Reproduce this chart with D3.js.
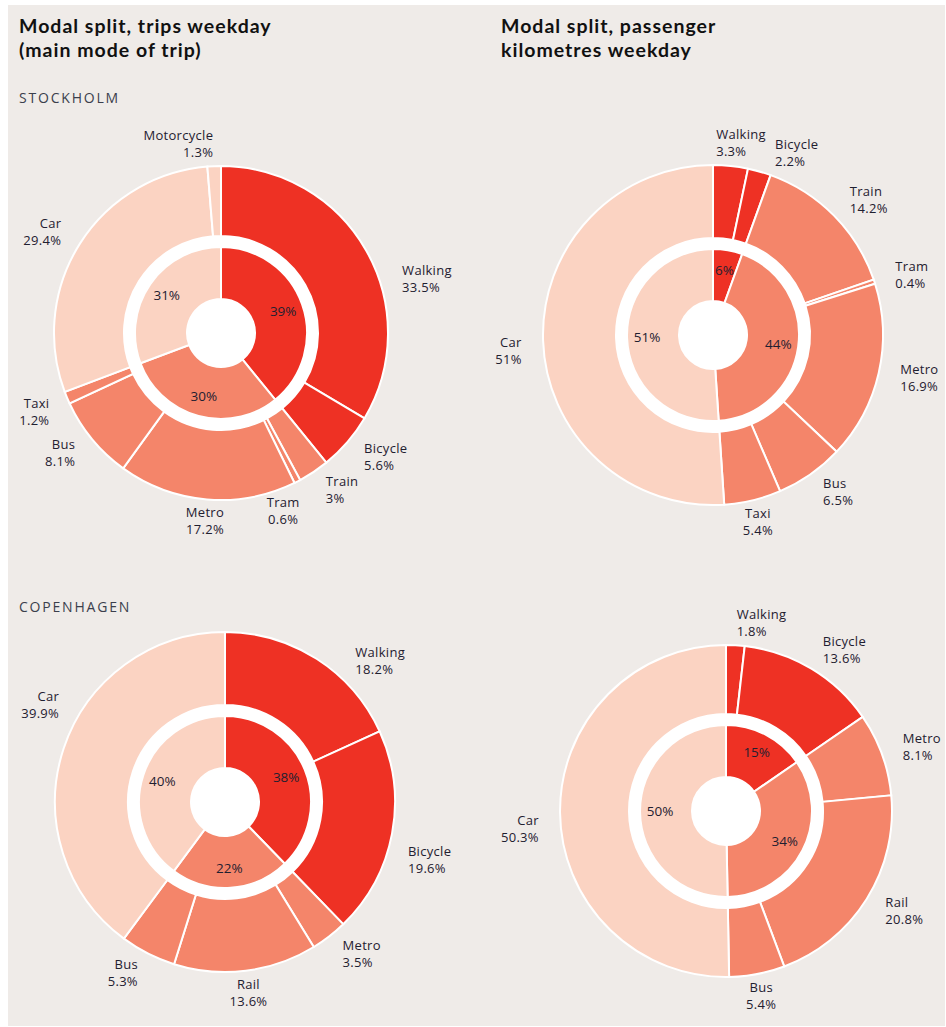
<!DOCTYPE html>
<html lang="en">
<head>
<meta charset="utf-8">
<script src="https://cdn.jsdelivr.net/npm/d3@7"></script>
<style>
  body { margin: 0; background: #fff; }
  .title { font-family: Lato, sans-serif; font-weight: 700; font-size: 19.5px; letter-spacing: 1px; fill: #111; }
  .city { font-family: "Open Sans", sans-serif; font-size: 14px; letter-spacing: 1.8px; fill: #3b3f4c; }
  .lbl { font-family: "Open Sans", sans-serif; font-size: 13px; letter-spacing: 0.3px; fill: #1f2030; }
  .pct { font-family: "Open Sans", sans-serif; font-size: 13.5px; fill: #1f2030; }
</style>
</head>
<body>
<div id="chart"></div>
<script>
// ---- data ----
var groupKeys = ["active", "public", "car"];

var sthTripModes  = ["Walking", "Bicycle", "Train", "Tram", "Metro", "Bus", "Taxi", "Car", "Motorcycle"];
var sthTripValues = [33.5, 5.6, 3, 0.6, 17.2, 8.1, 1.2, 29.4, 1.3];
var sthTripGroups = ["active", "active", "public", "public", "public", "public", "public", "car", "car"];
var sthTripInner  = [39, 30, 31];

var sthKmModes  = ["Walking", "Bicycle", "Train", "Tram", "Metro", "Bus", "Taxi", "Car"];
var sthKmValues = [3.3, 2.2, 14.2, 0.4, 16.9, 6.5, 5.4, 51];
var sthKmGroups = ["active", "active", "public", "public", "public", "public", "public", "car"];
var sthKmInner  = [6, 44, 51];

var cphTripModes  = ["Walking", "Bicycle", "Metro", "Rail", "Bus", "Car"];
var cphTripValues = [18.2, 19.6, 3.5, 13.6, 5.3, 39.9];
var cphTripGroups = ["active", "active", "public", "public", "public", "car"];
var cphTripInner  = [38, 22, 40];

var cphKmModes  = ["Walking", "Bicycle", "Metro", "Rail", "Bus", "Car"];
var cphKmValues = [1.8, 13.6, 8.1, 20.8, 5.4, 50.3];
var cphKmGroups = ["active", "active", "public", "public", "public", "car"];
var cphKmInner  = [15, 34, 50];

var titles = [["Modal split, trips weekday", "(main mode of trip)"],
              ["Modal split, passenger", "kilometres weekday"]];
var cities = ["STOCKHOLM", "COPENHAGEN"];

// ---- layout ----
var W = 946, H = 1027;
var color = d3.scaleOrdinal().domain(groupKeys).range(["#ee3124", "#f4856a", "#fbd3c2"]);

var svg = d3.select("#chart").append("svg")
  .attr("width", W).attr("height", H);

svg.append("rect")
  .attr("x", 8).attr("y", 5)
  .attr("width", W - 9).attr("height", H - 6)
  .attr("fill", "#efebe8");

// titles
titles.forEach(function(t, i) {
  var x0 = i == 0 ? 19 : 501;
  svg.append("text").attr("class", "title").attr("x", x0).attr("y", 33).text(t[0]);
  svg.append("text").attr("class", "title").attr("x", x0).attr("y", 56.5).text(t[1]);
});

svg.append("text").attr("class", "city").attr("x", 19).attr("y", 103).text(cities[0]);
svg.append("text").attr("class", "city").attr("x", 19).attr("y", 612).text(cities[1]);

var charts = [
  {modes: sthTripModes, values: sthTripValues, groups: sthTripGroups, inner: sthTripInner,
   cx: 221, cy: 333, R: 167, turn: {Walking: 13, Tram: 8, Taxi: -2}},
  {modes: sthKmModes, values: sthKmValues, groups: sthKmGroups, inner: sthKmInner,
   cx: 713, cy: 335, R: 170, turn: {Walking: -5, Bicycle: 3, Car: -3}},
  {modes: cphTripModes, values: cphTripValues, groups: cphTripGroups, inner: cphTripInner,
   cx: 225, cy: 802, R: 170, turn: {Walking: 10, Bicycle: 7, Car: 12}},
  {modes: cphKmModes, values: cphKmValues, groups: cphKmGroups, inner: cphKmInner,
   cx: 726, cy: 811, R: 166, turn: {Car: -5}}
];

var holeR = 34, innerR = 86, ringR = 97;

charts.forEach(function(c) {
  var g = svg.append("g").attr("transform", "translate(" + c.cx + "," + c.cy + ")");

  var rows = c.modes.map(function(m, i) {
    return {mode: m, value: c.values[i], group: c.groups[i]};
  });

  var pie = d3.pie().sort(null).value(function(d) { return d.value; });

  // outer ring
  var outerArc = d3.arc().innerRadius(ringR).outerRadius(c.R);
  var outer = pie(rows);
  g.selectAll("path.outer")
    .data(outer)
    .enter().append("path")
      .attr("class", "outer")
      .attr("d", outerArc)
      .attr("fill", function(d) { return color(d.data.group); })
      .attr("stroke", "#fff")
      .attr("stroke-width", 2);

  // white ring + hole
  g.append("circle").attr("r", ringR).attr("fill", "#fff");

  // inner pie = group totals
  var sums = d3.rollup(rows, function(v) { return d3.sum(v, function(d) { return d.value; }); },
                       function(d) { return d.group; });
  var innerRows = groupKeys.map(function(k, i) {
    return {group: k, value: sums.get(k), label: c.inner[i]};
  });
  var innerArc = d3.arc().innerRadius(holeR).outerRadius(innerR);
  var inner = pie(innerRows);
  g.selectAll("path.inner")
    .data(inner)
    .enter().append("path")
      .attr("class", "inner")
      .attr("d", innerArc)
      .attr("fill", function(d) { return color(d.data.group); })
      .attr("stroke", "#fff")
      .attr("stroke-width", 2);

  var labelArc = d3.arc().innerRadius(holeR + 6).outerRadius(innerR + 6);
  g.selectAll("text.in")
    .data(inner)
    .enter().append("text")
      .attr("class", "pct")
      .attr("text-anchor", "middle")
      .attr("dy", "0.35em")
      .attr("transform", function(d) { return "translate(" + labelArc.centroid(d) + ")"; })
      .text(function(d) { return d.data.label + "%"; });

  // outer labels
  var lr = c.R + 22;
  outer.forEach(function(d) {
    var a = (d.startAngle + d.endAngle) / 2 + ((c.turn[d.data.mode] || 0) * Math.PI / 180);
    var deg = a * 180 / Math.PI;
    var x = lr * Math.sin(a), y = -lr * Math.cos(a);
    var anchor = (deg > 158 && deg < 202) ? "middle" : (Math.sin(a) > 0 ? "start" : "end");
    var t = g.append("text").attr("class", "lbl")
      .attr("text-anchor", anchor)
      .attr("transform", "translate(" + x + "," + y + ")");
    t.append("tspan").attr("x", 0).attr("y", -4).text(d.data.mode);
    t.append("tspan").attr("x", 0).attr("y", 13).text(d.data.value + "%");
  });
});
</script>
</body>
</html>
